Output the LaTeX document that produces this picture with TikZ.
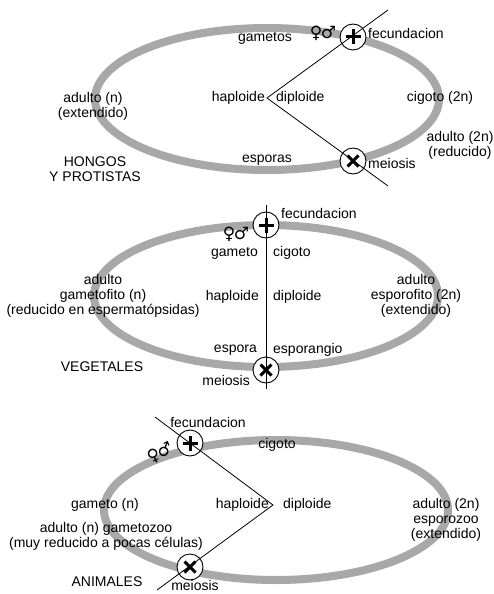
\documentclass[tikz,border=0pt]{standalone}
\usepackage{fontspec}
\setmainfont{Liberation Sans}
\newfontfamily\symfont{DejaVu Sans}
\usetikzlibrary{calc,positioning}
\definecolor{bandgray}{gray}{0.66}
\tikzset{
  cyc/.style={draw=bandgray, line width=8pt},
  axis/.style={draw=black, line width=0.8pt},
  lbl/.style={inner sep=0pt, font=\fontsize{14}{15}\selectfont, align=center},
  sexsym/.style={inner sep=0pt, font=\symfont\bfseries\fontsize{17}{17}\selectfont},
  ring/.style={circle, draw=black, fill=white, line width=0.9pt, minimum size=26pt, inner sep=0pt},
  fec/.style={ring, path picture={
      \draw[line width=3pt] (path picture bounding box.center) +(-7.5pt,0) -- +(7.5pt,0)
        (path picture bounding box.center) +(0,-7.5pt) -- +(0,7.5pt);}},
  mei/.style={ring, path picture={
      \draw[line width=3pt] (path picture bounding box.center) +(-5.5pt,-5.5pt) -- +(5.5pt,5.5pt)
        (path picture bounding box.center) +(-5.5pt,5.5pt) -- +(5.5pt,-5.5pt);}}
}
\begin{document}
\begin{tikzpicture}[x=1pt, y=-1pt]
  \useasboundingbox (0,0) rectangle (493,594);
  % hongos y protistas
  \coordinate (c1) at (267,99);
  \coordinate (v1) at (267,98);
  \coordinate (a1) at (388,10);
  \coordinate (b1) at (388,186);
  \draw[cyc] (c1) ellipse [x radius=172pt, y radius=71pt];
  \node[fec] (f1) at (353,37) {};
  \node[mei] (m1) at (353,161) {};
  \draw[axis] (a1) -- (v1) -- (b1);
  \node[lbl] (gam1) at (265,38) {gametos};
  \node[sexsym] (sx1) at (323,33) {♀\kern-1.5pt♂};
  \node[lbl, anchor=west] (fl1) at (368,33) {fecundacion};
  \node[lbl] (ad1) at (93,106) {adulto (n)\\(extendido)};
  \node[lbl, anchor=east] (hap1) at (265,98) {haploide};
  \node[lbl, anchor=west] (dip1) at (276,98) {diploide};
  \node[lbl] (cig1) at (440,98) {cigoto (2n)};
  \node[lbl] (ad2) at (460,145) {adulto (2n)\\(reducido)};
  \node[lbl] (esp1) at (267,160) {esporas};
  \node[lbl, anchor=west] (ml1) at (368,163) {meiosis};
  \node[lbl] (tit1) at (95,169) {HONGOS\\Y PROTISTAS};
  % vegetales
  \coordinate (c2) at (266,296);
  \coordinate (a2) at (266,205);
  \coordinate (b2) at (266,389);
  \draw[cyc] (c2) ellipse [x radius=172pt, y radius=71pt];
  \node[fec] (f2) at (266,225) {};
  \node[mei] (m2) at (266,370) {};
  \draw[axis] (a2) -- (b2);
  \node[lbl, anchor=west] (fl2) at (281,213) {fecundacion};
  \node[sexsym] (sx2) at (236,234) {♀\kern-1.5pt♂};
  \node[lbl, anchor=east] (gam2) at (258,253) {gameto};
  \node[lbl, anchor=west] (cig2) at (273,253) {cigoto};
  \node[lbl] (ad3) at (103,296) {adulto\\gametofito (n)\\(reducido en espermatópsidas)};
  \node[lbl, anchor=east] (hap2) at (259,297) {haploide};
  \node[lbl, anchor=west] (dip2) at (273,297) {diploide};
  \node[lbl] (ad4) at (416,296) {adulto\\esporofito (2n)\\(extendido)};
  \node[lbl, anchor=east] (esp2) at (257,350) {espora};
  \node[lbl, anchor=west] (spg2) at (273,350) {esporangio};
  \node[lbl] (tit2) at (102,367) {VEGETALES};
  \node[lbl, anchor=east] (ml2) at (250,380) {meiosis};
  % animales
  \coordinate (c3) at (276,510);
  \coordinate (v3) at (273,505);
  \coordinate (a3) at (155,417);
  \coordinate (b3) at (157,590);
  \draw[cyc] (c3) ellipse [x radius=172pt, y radius=70pt];
  \node[fec] (f3) at (190,443) {};
  \node[mei] (m3) at (190,567) {};
  \draw[axis] (a3) -- (v3) -- (b3);
  \node[lbl] (fl3) at (208,422) {fecundacion};
  \node[lbl] (cig3) at (277,445) {cigoto};
  \node[sexsym, rotate=25] (sx3) at (160,453) {♀\kern-1.5pt♂};
  \node[lbl] (gam3) at (105,505) {gameto (n)};
  \node[lbl, anchor=east] (hap3) at (269,505) {haploide};
  \node[lbl, anchor=west] (dip3) at (283,505) {diploide};
  \node[lbl] (ad5) at (446,520) {adulto (2n)\\esporozoo\\(extendido)};
  \node[lbl] (ad6) at (106,536) {adulto (n) gametozoo\\(muy reducido a pocas células)};
  \node[lbl] (tit3) at (107,582) {ANIMALES};
  \node[lbl] (ml3) at (195,585) {meiosis};
\end{tikzpicture}
\end{document}
